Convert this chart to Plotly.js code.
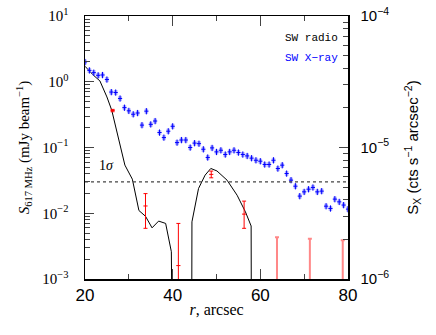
<!DOCTYPE html>
<html lang="en">
<head>
<meta charset="utf-8">
<title>SW radio / X-ray profile</title>
<script src="https://cdn.plot.ly/plotly-3.0.1.min.js"></script>
<style>
  body { margin: 0; background: #fff; }
  #graph { width: 436px; height: 335px; }
</style>
</head>
<body>
<div id="graph"></div>
<script>
// radio profile (left axis, mJy/beam); tiny values fall below the axis floor
var radioR = [20, 21.9, 23.4, 25, 26.1, 27.2, 27.8, 28.4, 29.1, 30.8, 32.3, 33.8, 35.3, 36.8, 38.4, 39.7, 40.0,
              44.3, 44.4, 45.9, 47.4, 48.7, 50.1, 52.4, 54.7, 56.6, 57.9, 58.0];
var radioS = [1.72, 1.26, 1.03, 0.587, 0.369, 0.183, 0.129, 0.091, 0.054, 0.033, 0.011, 0.0090, 0.0060, 0.0076, 0.0070, 0.0026, 0.00001,
              0.00001, 0.0074, 0.0238, 0.038, 0.048, 0.044, 0.0319, 0.0188, 0.0105, 0.0064, 0.00001];

// radio measurements with errors
var redR = [26.3, 33.8, 41.3, 48.8, 56.3];
var redS = [0.365, 0.0129, 0.0016, 0.039, 0.0097];
var redErrUp = [0.015, 0.007, 0.0054, 0.0048, 0.0056];
var redErrDn = [0.015, 0.007, 0.0054, 0.0044, 0.0038];

// upper limits only (point below the axis)
var limR = [63.8, 71.3, 78.8];
var limS = [0.00001, 0.00001, 0.00001];
var limTop = [0.0043, 0.0041, 0.0039];

// X-ray surface brightness (right axis)
var xrayR = [20,21,22,23,24,25,26,27,28,29,30,31,32,33,34,35,36,37,38,39,40,
             41,42,43,44,45,46,47,48,49,50,51,52,53,54,55,56,57,58,59,60,
             61,62,63,64,65,66,67,68,69,70,71,72,73,74,75,76,77,78,79,80];
var xrayS = [4.47e-5,3.86e-5,3.71e-5,3.54e-5,3.56e-5,3.29e-5,2.64e-5,2.62e-5,2.36e-5,2.01e-5,1.90e-5,
             1.79e-5,1.83e-5,1.48e-5,1.89e-5,1.50e-5,1.59e-5,1.30e-5,1.19e-5,1.33e-5,1.45e-5,
             1.09e-5,1.14e-5,1.14e-5,1.00e-5,1.08e-5,1.07e-5,9.7e-6,8.4e-6,9.93e-6,9.26e-6,
             9.53e-6,8.85e-6,9.26e-6,9.53e-6,9.16e-6,8.85e-6,8.63e-6,8.3e-6,8.0e-6,7.87e-6,
             7.43e-6,7.43e-6,8.0e-6,6.92e-6,7.34e-6,6.34e-6,5.65e-6,5.08e-6,4.27e-6,4.60e-6,
             4.82e-6,4.97e-6,4.60e-6,4.66e-6,3.58e-6,3.44e-6,4.05e-6,3.86e-6,3.65e-6,3.40e-6];

var sigmaLevel = 0.03;

var limErr = limTop.map(function(t, i) { return t - limS[i]; });

var traces = [
  {x: radioR, y: radioS, mode: 'lines', line: {color: '#000', width: 1}, yaxis: 'y'},
  {x: redR, y: redS, mode: 'markers', yaxis: 'y',
   marker: {symbol: 'line-ew', size: 3, line: {color: '#f00', width: 1}},
   error_y: {type: 'data', symmetric: false, array: redErrUp, arrayminus: redErrDn,
             color: '#f00', thickness: 1, width: 2}},
  {x: limR, y: limS, mode: 'markers', yaxis: 'y', marker: {size: 1, color: 'rgba(0,0,0,0)'},
   error_y: {type: 'data', symmetric: false, array: limErr, arrayminus: limErr,
             color: '#f88', thickness: 2, width: 2}},
  {x: xrayR, y: xrayS, mode: 'markers', yaxis: 'y2', marker: {size: 1, color: 'rgba(0,0,0,0)'},
   error_y: {type: 'percent', value: 4.5, color: 'rgba(110,110,255,0.55)', thickness: 3.5, width: 0}},
  {x: xrayR, y: xrayS, mode: 'markers', yaxis: 'y2',
   marker: {symbol: 'line-ew', size: 3, line: {color: '#00f', width: 1}},
   error_y: {type: 'percent', value: 5.5, color: '#00f', thickness: 1, width: 0}}
];

var serif = '"Liberation Serif", "Times New Roman", serif';
var sans = '"Liberation Sans", Arial, sans-serif';
var mono = '"Liberation Mono", "Courier New", monospace';

var layout = {
  width: 436, height: 335,
  margin: {l: 85, r: 88, t: 16, b: 56},
  paper_bgcolor: '#fff', plot_bgcolor: '#fff',
  showlegend: false,
  xaxis: {
    range: [20, 80], tickvals: [20, 40, 60, 80], ticks: 'inside', ticklen: 10, tickwidth: 1,
    minor: {dtick: 10, tick0: 0, ticks: 'inside', ticklen: 5},
    showline: true, linecolor: '#000', linewidth: 1.5, mirror: 'ticks', showgrid: false, zeroline: false,
    tickfont: {family: sans, size: 17, color: '#000'}, ticklabelstandoff: 0,
    title: {text: '<i>r</i>, arcsec', font: {family: serif, size: 16, color: '#000'}, standoff: 0}
  },
  yaxis: {
    type: 'log', range: [-3, 1], tickvals: [0.001, 0.01, 0.1, 1, 10],
    ticktext: ['10<sup>\u22123</sup>', '10<sup>\u22122</sup>', '10<sup>\u22121</sup>', '10<sup>0</sup>', '10<sup>1</sup>'],
    ticks: 'inside', ticklen: 9, tickwidth: 1,
    minor: {dtick: 'D1', ticks: 'inside', ticklen: 5},
    showline: true, linecolor: '#000', linewidth: 1.5, showgrid: false, zeroline: false,
    tickfont: {family: serif, size: 15, color: '#000'}, ticklabelstandoff: 12,
    title: {text: '<i>S</i><sub>617 MHz</sub> (mJy beam<sup>\u22121</sup>)', font: {family: serif, size: 15, color: '#000'}, standoff: 9}
  },
  yaxis2: {
    type: 'log', range: [-6, -4], overlaying: 'y', side: 'right', tickvals: [1e-6, 1e-5, 1e-4],
    ticktext: ['10<sup>\u22126</sup>', '10<sup>\u22125</sup>', '10<sup>\u22124</sup>'],
    ticks: 'inside', ticklen: 9, tickwidth: 1,
    minor: {dtick: 'D1', ticks: 'inside', ticklen: 5},
    showline: true, linecolor: '#000', linewidth: 1.5, showgrid: false, zeroline: false,
    tickfont: {family: sans, size: 15, color: '#000'}, ticklabelstandoff: 8,
    title: {text: 'S<sub>X</sub> (cts s<sup>\u22121</sup> arcsec<sup>\u22122</sup>)', font: {family: sans, size: 15, color: '#000'}, standoff: 19}
  },
  shapes: [
    {type: 'line', xref: 'paper', x0: 0, x1: 1, yref: 'y', y0: sigmaLevel, y1: sigmaLevel,
     line: {color: '#444', width: 1.2, dash: 'dot'}}
  ],
  annotations: [
    {xref: 'paper', yref: 'paper', x: 0.045, y: 0.43, xanchor: 'left', yanchor: 'middle', showarrow: false,
     text: '1<i>\u03c3</i>', font: {family: serif, size: 14, color: '#000'}},
    {xref: 'paper', yref: 'paper', x: 0.752, y: 0.915, xanchor: 'left', yanchor: 'middle', showarrow: false,
     text: 'SW radio', font: {family: mono, size: 11, color: '#000'}},
    {xref: 'paper', yref: 'paper', x: 0.752, y: 0.839, xanchor: 'left', yanchor: 'middle', showarrow: false,
     text: 'SW X\u2212ray', font: {family: mono, size: 11, color: '#00f'}}
  ]
};

Plotly.newPlot('graph', traces, layout, {staticPlot: true});
</script>
</body>
</html>
